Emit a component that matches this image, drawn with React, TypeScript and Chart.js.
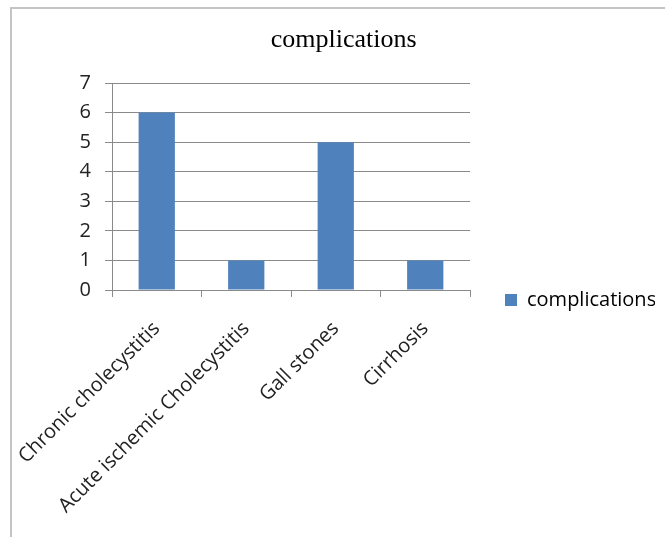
import React, { useEffect, useRef } from 'react';
import { Chart, registerables } from 'chart.js';

Chart.register(...registerables);

// Chart data
const categories = ['Chronic cholecystitis', 'Acute ischemic Cholecystitis', 'Gall stones', 'Cirrhosis'];
const complications = [6, 1, 5, 1];
const seriesName = 'complications';
const chartTitle = 'complications';
const yMin = 0;
const yMax = 7;
const yStep = 1;

const SANS = '"Open Sans", "Noto Sans", sans-serif';
const SERIF = '"Liberation Serif", "Times New Roman", serif';
const AXIS_GRAY = '#8a8a8a';
const BAR_BLUE = '#4f81bd';

export default function App() {
  const canvasRef = useRef<HTMLCanvasElement | null>(null);

  useEffect(() => {
    const canvas = canvasRef.current;
    if (!canvas) return;
    const chart = new Chart(canvas, {
      type: 'bar',
      data: {
        labels: categories,
        datasets: [
          {
            label: seriesName,
            data: complications,
            backgroundColor: BAR_BLUE,
            borderWidth: 0,
            barPercentage: 0.405,
            categoryPercentage: 1,
          },
        ],
      },
      options: {
        responsive: false,
        animation: false,
        events: [],
        layout: { padding: { left: 32.4, right: 45, top: 0, bottom: 0 } },
        plugins: {
          title: {
            display: true,
            text: chartTitle,
            color: '#000',
            font: { family: SERIF, size: 26, weight: 'normal', lineHeight: 1.2 },
            padding: { top: 25, bottom: 26.8 },
          },
          legend: {
            position: 'right',
            maxWidth: 185,
            labels: {
              boxWidth: 12,
              boxHeight: 12,
              padding: 35,
              color: '#000',
              font: { family: SANS, size: 20 },
            },
          },
          tooltip: { enabled: false },
        },
        scales: {
          x: {
            grid: { drawOnChartArea: false, color: AXIS_GRAY, tickLength: 7, offset: true },
            border: { color: AXIS_GRAY },
            ticks: {
              minRotation: 45,
              maxRotation: 45,
              autoSkip: false,
              padding: 20,
              color: '#222',
              font: { family: SANS, size: 20 },
            },
            afterFit: (scale: any) => {
              // the slanted category labels may hang out past the plot's left edge
              scale.height = 310;
              scale.paddingLeft = 0;
              scale.paddingRight = 0;
            },
          },
          y: {
            min: yMin,
            max: yMax,
            ticks: {
              stepSize: yStep,
              padding: 14,
              color: '#222',
              font: { family: SANS, size: 20 },
            },
            grid: { color: AXIS_GRAY, tickLength: 7 },
            border: { color: AXIS_GRAY },
            afterFit: (scale: any) => {
              scale.width = 79.6;
            },
          },
        },
      },
    });
    return () => chart.destroy();
  }, []);

  return (
    <div
      style={{
        position: 'fixed',
        left: 0,
        top: 0,
        width: 665,
        height: 537,
        overflow: 'hidden',
        background: '#fff',
      }}
    >
      <div
        style={{
          position: 'absolute',
          left: 10,
          top: 7,
          width: 720,
          height: 620,
          borderLeft: '2px solid #c4c4c4',
          borderTop: '2px solid #c4c4c4',
        }}
      />
      <div style={{ position: 'absolute', left: 0, top: 0, width: 700, height: 600 }}>
        <canvas ref={canvasRef} width={700} height={600} />
      </div>
    </div>
  );
}
